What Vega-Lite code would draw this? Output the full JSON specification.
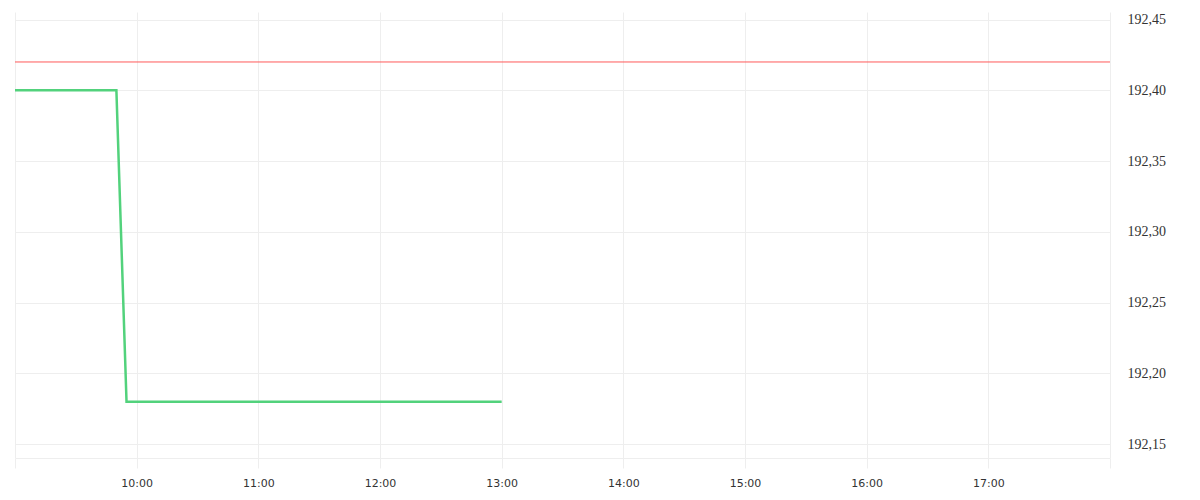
{
  "$schema": "https://vega.github.io/schema/vega-lite/v6.json",
  "width": 1095,
  "height": 446,
  "autosize": "none",
  "padding": {"left": 15, "top": 12, "right": 90, "bottom": 42},
  "background": "white",
  "data": {
    "values": [
      {"time": "2024-01-02T09:00:00Z", "price": 192.40},
      {"time": "2024-01-02T09:50:00Z", "price": 192.40},
      {"time": "2024-01-02T09:55:00Z", "price": 192.18},
      {"time": "2024-01-02T13:00:00Z", "price": 192.18}
    ]
  },
  "layer": [
    {
      "mark": {"type": "line", "color": "#52d27c", "strokeWidth": 2.5},
      "encoding": {
        "x": {
          "field": "time",
          "type": "temporal",
          "scale": {"type": "utc", "domain": [1704186000000, 1704218400000]},
          "axis": {
            "title": null,
            "values": [1704186000000, 1704189600000, 1704193200000, 1704196800000, 1704200400000, 1704204000000, 1704207600000, 1704211200000, 1704214800000, 1704218400000],
            "grid": true,
            "gridColor": "#eeeeee",
            "domainColor": "#eeeeee",
            "tickColor": "#eeeeee",
            "tickSize": 10,
            "labelPadding": 9,
            "labelFont": "DejaVu Sans",
            "labelFontSize": 11,
            "labelColor": "#333333",
            "format": "%H:%M",
            "labelExpr": "datum.label == '09:00' || datum.label == '18:00' ? '' : datum.label"
          }
        },
        "y": {
          "field": "price",
          "type": "quantitative",
          "scale": {"domain": [192.1403, 192.4553], "nice": false, "zero": false},
          "axis": {
            "title": null,
            "orient": "right",
            "values": [192.15, 192.2, 192.25, 192.3, 192.35, 192.4, 192.45],
            "grid": true,
            "gridColor": "#eeeeee",
            "domain": false,
            "ticks": false,
            "labelPadding": 17,
            "labelFont": "Liberation Serif",
            "labelFontSize": 14,
            "labelColor": "#333333",
            "labelExpr": "replace(format(datum.value, '.2f'), '.', ',')"
          }
        }
      }
    },
    {
      "data": {"values": [{"level": 192.42}]},
      "mark": {"type": "rule", "color": "#ff5a5a", "strokeWidth": 1},
      "encoding": {
        "y": {"field": "level", "type": "quantitative"}
      }
    }
  ],
  "config": {"view": {"stroke": "transparent"}}
}
